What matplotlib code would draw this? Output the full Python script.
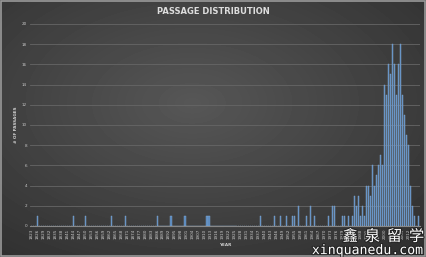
import numpy as np
import matplotlib
matplotlib.use('Agg')
import matplotlib.pyplot as plt
import matplotlib.patheffects as pe
from matplotlib.patches import Rectangle

# years on the axis, one bar per year
years = list(range(1823, 2018))

# years that have passages, and how many
hit_years = [1826, 1844, 1850, 1863, 1870, 1886, 1893, 1900, 1911, 1912,
             1938, 1945, 1948, 1951, 1954, 1955, 1957, 1961, 1963, 1965,
             1972, 1974, 1975, 1979, 1980, 1982, 1984, 1985, 1986, 1987,
             1988, 1989, 1990, 1991, 1992, 1993, 1994, 1995, 1996, 1997,
             1998, 1999, 2000, 2001, 2002, 2003, 2004, 2005, 2006, 2007,
             2008, 2009, 2010, 2011, 2012, 2013, 2014, 2015, 2017]
hit_counts = [1, 1, 1, 1, 1, 1, 1, 1, 1, 1,
              1, 1, 1, 1, 1, 1, 2, 1, 2, 1,
              1, 2, 2, 1, 1, 1, 1, 3, 2, 3,
              1, 2, 1, 4, 4, 3, 6, 4, 5, 6,
              7, 6, 14, 13, 16, 15, 18, 16, 13, 16,
              18, 13, 11, 9, 8, 4, 2, 1, 1]

counts = [0] * len(years)
for y, c in zip(hit_years, hit_counts):
    counts[years.index(y)] = c

W, H = 426, 257
fig = plt.figure(figsize=(W / 100, H / 100), dpi=100)

# radial grey background
bg = fig.add_axes([0, 0, 1, 1], zorder=0)
yy, xx = np.mgrid[0:H, 0:W]
r = np.sqrt(((xx - W * 0.45) / W) ** 2 + ((yy - H * 0.4) / H) ** 2)
shade = np.clip(0.34 - 0.2 * r, 0.17, 0.34)
bg.imshow(shade, cmap='gray', vmin=0, vmax=1, aspect='auto', extent=[0, 1, 0, 1])
bg.add_patch(Rectangle((0.002, 0.004), 0.996, 0.992, fill=False,
                       edgecolor='#9a9a9a', lw=1.2, transform=bg.transAxes))
bg.set_xlim(0, 1)
bg.set_ylim(0, 1)
bg.axis('off')

ax = fig.add_axes([0.070, 0.121, 0.916, 0.786], zorder=1)
ax.set_facecolor('none')
ax.bar(years, counts, width=0.6, color='#5586bb', edgecolor='#86acd6', linewidth=0.3, zorder=3)

ax.set_ylim(0, 20)
ax.set_yticks(range(0, 21, 2))
ax.set_xlim(years[0] - 0.8, years[-1] + 0.8)
ax.set_xticks(years[::3])
ax.set_xticklabels([str(y) for y in years[::3]], rotation=90)
ax.tick_params(axis='both', length=0, labelsize=3, labelcolor='#c8c8c8', pad=2)
ax.grid(axis='y', color='#666666', linewidth=0.6, zorder=0)
for s in ['top', 'right', 'left']:
    ax.spines[s].set_visible(False)
ax.spines['bottom'].set_color('#888888')
ax.spines['bottom'].set_linewidth(0.8)

ax.set_ylabel('# OF PASSAGES', fontsize=3, color='#d0d0d0', fontweight='bold', labelpad=3)
ax.set_xlabel('YEAR', fontsize=3, color='#d0d0d0', fontweight='bold', labelpad=3)
fig.text(0.5, 0.955, 'PASSAGE DISTRIBUTION', ha='center', va='center',
         fontsize=6, fontweight='bold', color='#dddddd')

# watermark
outline = [pe.withStroke(linewidth=1.5, foreground='#222222')]
fig.text(0.995, 0.08, '鑫  泉  留  学', ha='right', va='center', fontsize=11,
         color='white', family=['Noto Sans CJK SC', 'DejaVu Sans'], path_effects=outline)
fig.text(0.995, 0.025, 'xinquanedu.com', ha='right', va='center', fontsize=9.5,
         color='white', family='DejaVu Sans Mono', path_effects=outline)

fig.savefig('out.png', dpi=100)
